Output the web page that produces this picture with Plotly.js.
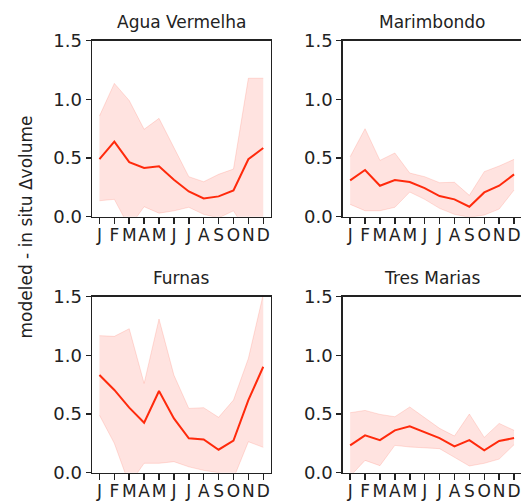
<!DOCTYPE html>
<html>
<head>
<meta charset="utf-8">
<script src="https://cdn.plot.ly/plotly-3.0.1.min.js"></script>
<style>
html, body { margin: 0; padding: 0; overflow: hidden; background: #fff; }
#chart { width: 524px; height: 503px; }
</style>
</head>
<body>
<div id="chart"></div>
<script>
// ---- data ----
const months = ['J','F','M','A','M','J','J','A','S','O','N','D'];
const reservoirs = ['Agua Vermelha', 'Marimbondo', 'Furnas', 'Tres Marias'];

const aguaMean  = [0.49, 0.64, 0.465, 0.415, 0.43, 0.315, 0.215, 0.156, 0.173, 0.224, 0.49, 0.585];
const aguaUpper = [0.858, 1.136, 0.99, 0.745, 0.838, 0.588, 0.341, 0.298, 0.361, 0.406, 1.18, 1.18];
const aguaLower = [0.136, 0.148, -0.09, 0.085, 0.03, 0.05, 0.08, 0.02, -0.01, 0.05, -0.15, -0.15];

const mariMean  = [0.31, 0.398, 0.264, 0.312, 0.295, 0.244, 0.176, 0.148, 0.085, 0.207, 0.264, 0.361];
const mariUpper = [0.511, 0.75, 0.48, 0.543, 0.372, 0.341, 0.29, 0.293, 0.182, 0.384, 0.432, 0.489];
const mariLower = [0.105, 0.051, 0.051, 0.08, 0.21, 0.148, 0.071, 0.02, -0.005, 0.014, 0.065, 0.227];

const furnMean  = [0.832, 0.705, 0.554, 0.426, 0.696, 0.463, 0.293, 0.284, 0.196, 0.273, 0.619, 0.903];
const furnUpper = [1.168, 1.162, 1.227, 0.761, 1.31, 0.832, 0.548, 0.554, 0.472, 0.619, 0.974, 1.52];
const furnLower = [0.49, 0.25, -0.1, 0.08, 0.08, 0.094, 0.05, 0.02, 0.0, -0.05, 0.264, 0.216];

const tresMean  = [0.233, 0.318, 0.278, 0.361, 0.395, 0.347, 0.295, 0.224, 0.278, 0.19, 0.27, 0.295];
const tresUpper = [0.511, 0.531, 0.497, 0.477, 0.56, 0.472, 0.378, 0.3125, 0.5, 0.301, 0.42, 0.361];
const tresLower = [-0.03, 0.105, 0.06, 0.233, 0.219, 0.213, 0.205, 0.131, 0.057, 0.08, 0.116, 0.239];

const yTickVals = [0, 0.5, 1.0, 1.5];
const yTitle = 'modeled - in situ \u0394volume';

// ---- styling ----
const W = 524, H = 503;
const lineColor = '#ff2a0c';
const fillColor = 'rgba(255,70,45,0.15)';
const edgeColor = 'rgba(255,70,45,0.16)';
const fontFam = 'DejaVu Sans, sans-serif';
const xIdx = months.map((_, i) => i);

const panels = [
  {name: reservoirs[0], mean: aguaMean, up: aguaUpper, lo: aguaLower, xa: 'x',  ya: 'y'},
  {name: reservoirs[1], mean: mariMean, up: mariUpper, lo: mariLower, xa: 'x2', ya: 'y2'},
  {name: reservoirs[2], mean: furnMean, up: furnUpper, lo: furnLower, xa: 'x3', ya: 'y3'},
  {name: reservoirs[3], mean: tresMean, up: tresUpper, lo: tresLower, xa: 'x4', ya: 'y4'}
];

const traces = [];
panels.forEach(p => {
  traces.push({x: xIdx, y: p.lo, xaxis: p.xa, yaxis: p.ya, mode: 'lines',
    line: {color: edgeColor, width: 1}, hoverinfo: 'skip', showlegend: false});
  traces.push({x: xIdx, y: p.up, xaxis: p.xa, yaxis: p.ya, mode: 'lines', fill: 'tonexty',
    fillcolor: fillColor, line: {color: edgeColor, width: 1}, hoverinfo: 'skip', showlegend: false});
  traces.push({x: xIdx, y: p.mean, xaxis: p.xa, yaxis: p.ya, mode: 'lines',
    line: {color: lineColor, width: 2}, showlegend: false});
});

// pixel-based domains
const colsPx = [[92, 270.7], [342.7, 521.5]];
const rowsPx = [[40.7, 216.7], [296.7, 472.7]];
const xd = c => [colsPx[c][0] / W, colsPx[c][1] / W];
const yd = r => [1 - rowsPx[r][1] / H, 1 - rowsPx[r][0] / H];

function xAxis(c, anchor) {
  return {
    domain: xd(c), anchor: anchor, range: [-0.5, 11.5],
    tickmode: 'array', tickvals: xIdx, ticktext: months, tickangle: 0,
    ticks: 'outside', ticklen: 6, tickwidth: 1.5, tickcolor: '#222',
    ticklabelstandoff: -4,
    showline: true, linecolor: '#222', linewidth: 1.5, mirror: true,
    showgrid: false, zeroline: false,
    tickfont: {family: fontFam, size: 17, color: '#222'}, fixedrange: true
  };
}
function yAxis(r, anchor) {
  return {
    domain: yd(r), anchor: anchor, range: [0, 1.5],
    tickmode: 'array', tickvals: yTickVals, tickformat: '.1f',
    ticks: 'outside', ticklen: 5, tickwidth: 1.5, tickcolor: '#222',
    showline: true, linecolor: '#222', linewidth: 1.5, mirror: true,
    showgrid: false, zeroline: false,
    tickfont: {family: fontFam, size: 18, color: '#222'}, fixedrange: true
  };
}

const annotations = [];
const titlePos = [[0, 0], [1, 0], [0, 1], [1, 1]];
panels.forEach((p, i) => {
  const [c, r] = titlePos[i];
  annotations.push({
    text: p.name, xref: 'paper', yref: 'paper', showarrow: false,
    x: (colsPx[c][0] + colsPx[c][1]) / 2 / W, xanchor: 'center',
    y: 1 - (rowsPx[r][0] - 19) / H, yanchor: 'middle',
    font: {family: fontFam, size: 17, color: '#222'}
  });
});
annotations.push({
  text: yTitle, xref: 'paper', yref: 'paper', showarrow: false, textangle: -90,
  x: 25 / W, xanchor: 'center', y: 1 - 227.5 / H, yanchor: 'middle',
  font: {family: fontFam, size: 17, color: '#222'}
});

const layout = {
  width: W, height: H,
  margin: {l: 0, r: 0, t: 0, b: 0},
  paper_bgcolor: '#fff', plot_bgcolor: '#fff',
  showlegend: false,
  xaxis: xAxis(0, 'y'), yaxis: yAxis(0, 'x'),
  xaxis2: xAxis(1, 'y2'), yaxis2: yAxis(0, 'x2'),
  xaxis3: xAxis(0, 'y3'), yaxis3: yAxis(1, 'x3'),
  xaxis4: xAxis(1, 'y4'), yaxis4: yAxis(1, 'x4'),
  annotations: annotations
};

Plotly.newPlot('chart', traces, layout, {displayModeBar: false, staticPlot: true});
</script>
</body>
</html>
